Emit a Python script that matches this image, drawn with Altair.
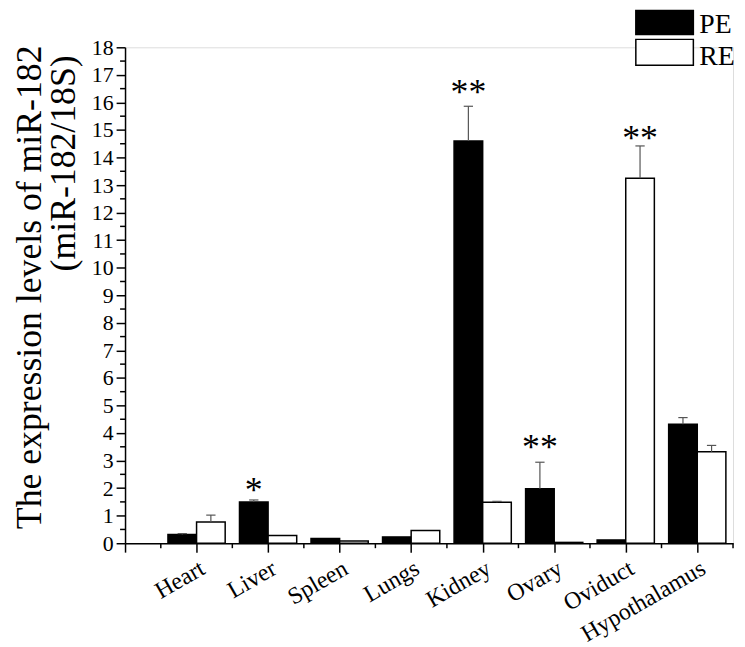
import json
import altair as alt
import pandas as pd

# ---- data ----
categories = ["Heart", "Liver", "Spleen", "Lungs", "Kidney", "Ovary", "Oviduct", "Hypothalamus"]
pe_values = [0.32, 1.50, 0.17, 0.23, 14.60, 1.98, 0.12, 4.32]
pe_errors = [0.03, 0.07, 0.0, 0.0, 1.26, 0.96, 0.0, 0.24]
re_values = [0.77, 0.28, 0.08, 0.46, 1.49, 0.03, 13.25, 3.32]
re_errors = [0.25, 0.0, 0.0, 0.0, 0.03, 0.0, 1.17, 0.23]
star_labels = ["", "*", "", "", "**", "**", "**", ""]
star_groups = ["", "PE", "", "", "PE", "PE", "RE", ""]
star_levels = [0, 2.12, 0, 0, 16.56, 3.67, 14.87, 0]
y_major = list(range(0, 19))
y_minor = [i + 0.5 for i in range(18)]
x_major = list(range(0, 9))
x_minor = [i + 0.5 for i in range(9)]
series = ["PE", "RE"]
series_colors = ["black", "white"]
y_title_1 = "The expression levels of miR-182"
y_title_2 = "(miR-182/18S)"

# ---- layout ----
W, H = 613, 500
BAR = 0.4
CAP = 0.065
FONT = "Liberation Serif"

rows = []
for i, c in enumerate(categories):
    pos = i + 1
    rows.append(dict(cat=c, group="PE", lo=pos - BAR, hi=pos, mid=pos - BAR / 2,
                     value=pe_values[i], err=pe_errors[i]))
    rows.append(dict(cat=c, group="RE", lo=pos, hi=pos + BAR, mid=pos + BAR / 2,
                     value=re_values[i], err=re_errors[i]))
df = pd.DataFrame(rows)
df["top"] = df["value"] + df["err"]
df["cap_lo"] = df["mid"] - CAP
df["cap_hi"] = df["mid"] + CAP
err_df = df[df["err"] > 0]

stars = []
for i, s in enumerate(star_labels):
    if s:
        g = star_groups[i]
        mid = (i + 1) - BAR / 2 if g == "PE" else (i + 1) + BAR / 2
        stars.append(dict(mid=mid, level=star_levels[i], label=s))
star_df = pd.DataFrame(stars)

xscale = alt.Scale(domain=[0, 8.5], nice=False, zero=False)
yscale = alt.Scale(domain=[0, 18], nice=False, zero=False)

label_expr = "datum.value >= 1 && datum.value <= 8 ? " + json.dumps(categories) + "[datum.value - 1] : ''"

xaxis = alt.Axis(values=x_major, labelExpr=label_expr, labelAngle=-30, labelAlign="right",
                 labelBaseline="top", labelPadding=4, tickSize=9, tickWidth=1.5, tickColor="black",
                 domainColor="black", domainWidth=1.5, grid=False, title=None,
                 labelFont=FONT, labelFontSize=24, labelColor="black",
                 labelOverlap=False, labelFlush=False, labelBound=False)
yaxis = alt.Axis(values=y_major, format="d", tickSize=9, tickWidth=1.5, tickColor="black",
                 domainColor="black", domainWidth=1.5, grid=False, title=None,
                 labelFont=FONT, labelFontSize=22, labelColor="black", labelPadding=3,
                 labelOverlap=False, labelFlush=False, labelBound=False)

bars = alt.Chart(df).mark_rect(stroke="black", strokeWidth=1.5).encode(
    x=alt.X("lo:Q", scale=xscale, axis=xaxis),
    x2="hi:Q",
    y=alt.Y("value:Q", scale=yscale, axis=yaxis),
    y2=alt.datum(0),
    fill=alt.Color("group:N", scale=alt.Scale(domain=series, range=series_colors), legend=None),
)

err_line = alt.Chart(err_df).mark_rule(color="#555555", strokeWidth=1.2).encode(
    x=alt.X("mid:Q", scale=xscale, axis=xaxis),
    y=alt.Y("value:Q", scale=yscale, axis=yaxis),
    y2="top:Q",
)
err_cap = alt.Chart(err_df).mark_rule(color="#555555", strokeWidth=1.2).encode(
    x=alt.X("cap_lo:Q", scale=xscale, axis=xaxis),
    x2="cap_hi:Q",
    y=alt.Y("top:Q", scale=yscale, axis=yaxis),
)

star_text = alt.Chart(star_df).mark_text(font=FONT, fontSize=36, baseline="alphabetic",
                                         align="center", dy=17, color="black").encode(
    x=alt.X("mid:Q", scale=xscale, axis=xaxis),
    y=alt.Y("level:Q", scale=yscale, axis=yaxis),
    text="label:N",
)

ymin_df = pd.DataFrame({"v": y_minor})
y_minor_ticks = alt.Chart(ymin_df).mark_rule(color="black", strokeWidth=1.5).encode(
    y=alt.Y("v:Q", scale=yscale, axis=yaxis),
    x=alt.value(-5), x2=alt.value(0),
)
xmin_df = pd.DataFrame({"v": x_minor})
x_minor_ticks = alt.Chart(xmin_df).mark_rule(color="black", strokeWidth=1.5).encode(
    x=alt.X("v:Q", scale=xscale, axis=xaxis),
    y=alt.value(H), y2=alt.value(H + 5),
)

title1 = alt.Chart(pd.DataFrame({"t": [y_title_1]})).mark_text(
    font=FONT, fontSize=36, angle=270, align="center", baseline="middle", color="black").encode(
    x=alt.value(-96), y=alt.value(242), text="t:N")
title2 = alt.Chart(pd.DataFrame({"t": [y_title_2]})).mark_text(
    font=FONT, fontSize=36, angle=270, align="center", baseline="middle", color="black").encode(
    x=alt.value(-61), y=alt.value(117), text="t:N")

legend_layers = []
box_tops = [-37, -8]
box_bottoms = [-13, 18]
text_baselines = [-14, 18]
for i, g in enumerate(series):
    one = pd.DataFrame({"t": [g]})
    legend_layers.append(alt.Chart(one).mark_rect(
        stroke="black", strokeWidth=1.5, fill=series_colors[i]).encode(
        x=alt.value(515), x2=alt.value(573),
        y=alt.value(box_tops[i]), y2=alt.value(box_bottoms[i])))
    legend_layers.append(alt.Chart(one).mark_text(
        font=FONT, fontSize=28, align="left", baseline="alphabetic", color="black").encode(
        x=alt.value(579), y=alt.value(text_baselines[i]), text="t:N"))

chart = alt.layer(
    bars, err_line, err_cap, star_text, y_minor_ticks, x_minor_ticks,
    title1, title2, *legend_layers,
).properties(
    width=W, height=H,
    autosize=alt.AutoSizeParams(type="none"),
    padding={"left": 118, "top": 37, "right": 4, "bottom": 102},
).configure_view(stroke=None).configure(background="white")

chart.save("out.html", embed_options={"renderer": "svg", "actions": False})
